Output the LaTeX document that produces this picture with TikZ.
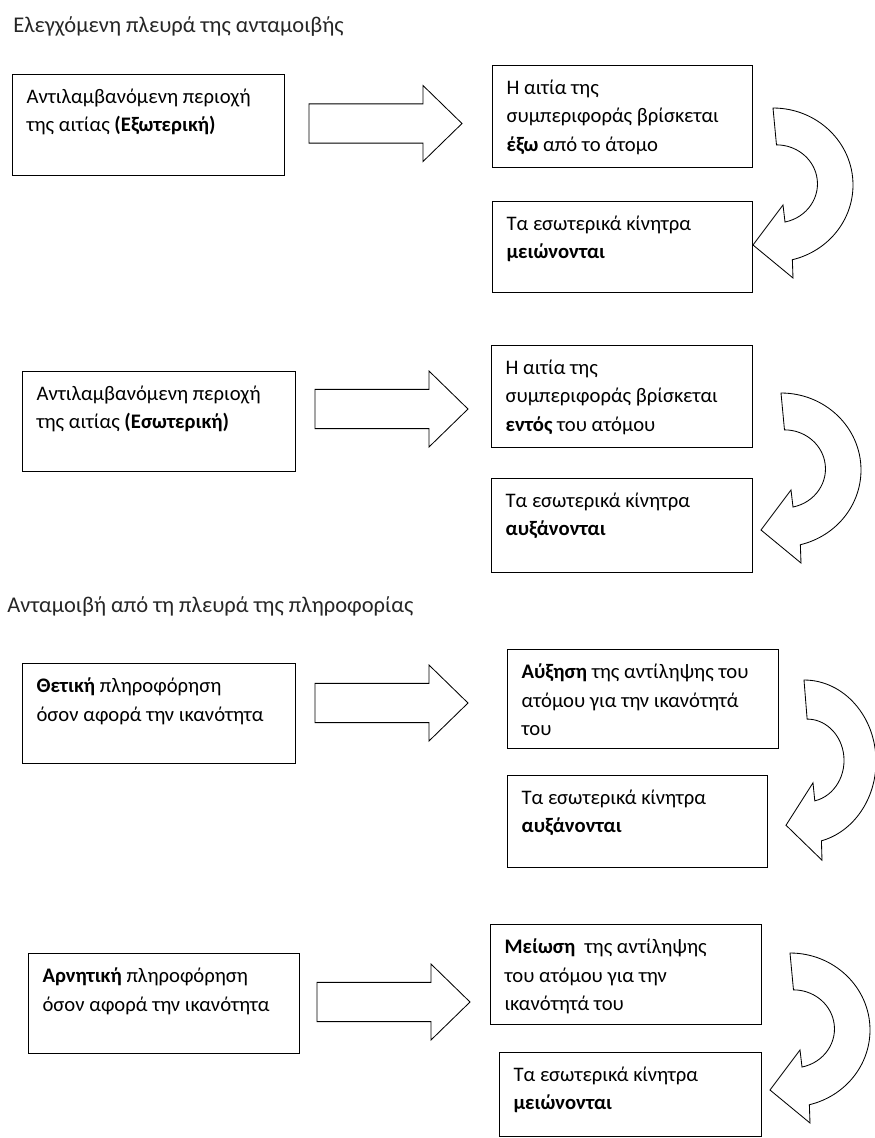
\documentclass[tikz,border=0pt]{standalone}
\usepackage{fontspec}
\setmainfont{Carlito}
\newcommand{\cell}[3]{\parbox[t][\dimexpr#2-0.7cm][t]{\dimexpr#1-0.7cm}{#3}}

\begin{document}
\begin{tikzpicture}[
  box/.style={draw,rectangle,anchor=north west,line width=0.8pt,
    inner xsep=0.35cm,inner ysep=0.35cm,
    font=\fontsize{14.7}{20.5}\selectfont},
  heading/.style={anchor=west,inner sep=0pt,text=black!85,
    font=\fontsize{16}{20.5}\selectfont},
  blockarrow/.pic={
    \draw[line width=0.6pt] (0,0.49) -- (2.85,0.49) -- (2.85,0.95)
      -- (3.825,0) -- (2.85,-0.95) -- (2.85,-0.49) -- (0,-0.49) -- cycle;},
  turnarrow/.pic={
    \draw[line width=0.6pt] (0,0)
      arc[start angle=90,end angle=-76,x radius=2,y radius=1.925]
      -- (0.5,-4.25) -- (-0.5,-3.425) -- (0.25,-2.425) -- (0.3,-2.85)
      arc[start angle=-78,end angle=90,x radius=1.025,y radius=0.975]
      -- cycle;}
]
\useasboundingbox (0,0) rectangle (21.875,-28.45);

% Elegxomeni pleura
\node[heading] (h1) at (0.325,-0.675) {Ελεγχόμενη πλευρά της ανταμοιβής};

\node[box] (l1) at (0.3,-1.85)
  {\cell{6.8cm}{2.525cm}{Αντιλαμβανόμενη περιοχή\\ της αιτίας \textbf{(Εξωτερική)}}};
\node[box] (r1a) at (12.3,-1.625)
  {\cell{6.5cm}{2.55cm}{Η αιτία της\\ συμπεριφοράς βρίσκεται\\ \textbf{έξω} από το άτομο}};
\node[box] (r1b) at (12.3,-5.025)
  {\cell{6.5cm}{2.275cm}{Τα εσωτερικά κίνητρα\\ \textbf{μειώνονται}}};
\pic at (7.725,-3.0875) {blockarrow};
\pic at (19.325,-2.7) {turnarrow};

\node[box] (l2) at (0.55,-9.275)
  {\cell{6.825cm}{2.5cm}{Αντιλαμβανόμενη περιοχή\\ της αιτίας \textbf{(Εσωτερική)}}};
\node[box] (r2a) at (12.275,-8.625)
  {\cell{6.525cm}{2.55cm}{Η αιτία της\\ συμπεριφοράς βρίσκεται\\ \textbf{εντός} του ατόμου}};
\node[box] (r2b) at (12.275,-11.95)
  {\cell{6.525cm}{2.35cm}{Τα εσωτερικά κίνητρα\\ \textbf{αυξάνονται}}};
\pic at (7.875,-10.225) {blockarrow};
\pic at (19.525,-9.825) {turnarrow};

% pliroforia
\node[heading] (h2) at (0.175,-15.175) {Ανταμοιβή από τη πλευρά της πληροφορίας};

\node[box] (l3) at (0.55,-16.575)
  {\cell{6.825cm}{2.5cm}{\textbf{Θετική} πληροφόρηση\\ όσον αφορά την ικανότητα}};
\node[box] (r3a) at (12.675,-16.225)
  {\cell{6.775cm}{2.475cm}{\textbf{Αύξηση} της αντίληψης του\\ ατόμου για την ικανότητά\\ του}};
\node[box] (r3b) at (12.675,-19.375)
  {\cell{6.5cm}{2.3cm}{Τα εσωτερικά κίνητρα\\ \textbf{αυξάνονται}}};
\pic at (7.875,-17.575) {blockarrow};
\pic[xscale=0.9,yscale=1.06] at (20.1,-17.0) {turnarrow};

\node[box] (l4) at (0.7,-23.825)
  {\cell{6.775cm}{2.5cm}{\textbf{Αρνητική} πληροφόρηση\\ όσον αφορά την ικανότητα}};
\node[box] (r4a) at (12.25,-23.1)
  {\cell{6.775cm}{2.5cm}{\textbf{Μείωση}\ \ της αντίληψης\\ του ατόμου για την\\ ικανότητά του}};
\node[box] (r4b) at (12.475,-26.3)
  {\cell{6.55cm}{2.1cm}{Τα εσωτερικά κίνητρα\\ \textbf{μειώνονται}}};
\pic at (7.925,-25.05) {blockarrow};
\pic at (19.75,-23.825) {turnarrow};
\end{tikzpicture}
\end{document}
